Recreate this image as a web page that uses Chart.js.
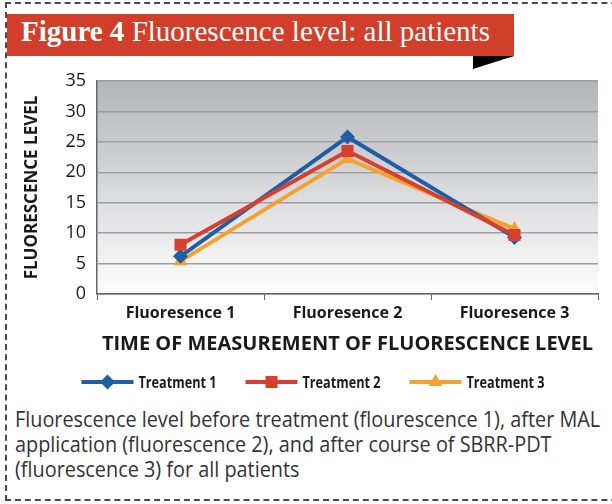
<!DOCTYPE html>
<html>
<head>
<meta charset="utf-8">
<script src="https://cdn.jsdelivr.net/npm/chart.js@4.4.0/dist/chart.umd.min.js"></script>
<style>
  body { margin: 0; width: 612px; height: 504px; background: #fff; position: relative; overflow: hidden; }
  #frame { position: absolute; left: 5px; top: 2px; width: 660px; height: 495px; border: 2px dashed #4a4a4a; border-right: none; }
  #banner { position: absolute; left: 7px; top: 14px; width: 507px; height: 42px; background: #d13f2a; }
  #banner span { position: absolute; left: 14px; top: 1px; font-family: "Liberation Serif", serif; font-size: 29px; color: #fff; white-space: nowrap; }
  #banner b { font-weight: bold; }
  #fold { position: absolute; left: 473px; top: 56px; width: 0; height: 0; border-top: 13px solid #000; border-right: 41px solid transparent; }
  #chart { position: absolute; left: 0; top: 0; }
  #caption { position: absolute; left: 15px; top: 407px; margin: 0; font-family: "Open Sans", sans-serif; font-size: 21px; line-height: 25px; color: #333; white-space: nowrap; transform-origin: 0 0; }
</style>
</head>
<body>
<div id="frame"></div>
<div id="banner"><span><b>Figure 4</b> Fluorescence level: all patients</span></div>
<div id="fold"></div>
<canvas id="chart" width="612" height="400"></canvas>
<p id="caption">Fluorescence level before treatment (flourescence 1), after MAL<br>application (fluorescence 2), and after course of SBRR-PDT<br>(fluorescence 3) for all patients</p>

<script>
// ---- Data ----
const categories = ['Fluoresence 1', 'Fluoresence 2', 'Fluoresence 3'];
const seriesNames = ['Treatment 1', 'Treatment 2', 'Treatment 3'];
const treatment1 = [6.2, 25.8, 9.3];
const treatment2 = [8.1, 23.5, 9.7];
const treatment3 = [5.4, 22.2, 10.7];
const yTicks = [0, 5, 10, 15, 20, 25, 30, 35];

const FONT = '"Open Sans", sans-serif';

// caption font is condensed in the original: squeeze to the same width
const caption = document.getElementById('caption');
caption.style.transform = 'scaleX(' + (585 / caption.scrollWidth) + ')';

// ---- Plugin: grey gradient behind the plot ----
const plotBackground = {
    id: 'plotBackground',
    beforeDraw(chart) {
        const { ctx, chartArea: a } = chart;
        const g = ctx.createLinearGradient(0, a.top, 0, a.bottom);
        g.addColorStop(0, '#b4b5b9');
        g.addColorStop(1, '#fdfdfd');
        ctx.save();
        ctx.fillStyle = g;
        ctx.fillRect(a.left, a.top, a.right - a.left, a.bottom - a.top);
        ctx.restore();
    }
};

// ---- Plugin: legend with line + marker under the axis title ----
const lineLegend = {
    id: 'lineLegend',
    afterDraw(chart) {
        const ctx = chart.ctx;
        const y = 382, lineW = 52, gap = 5, itemGap = 29, textW = 78;
        ctx.save();
        ctx.font = 'bold 16px ' + FONT;
        const total = chart.data.datasets.length * (lineW + gap + textW) + itemGap * (chart.data.datasets.length - 1);
        let x = 313 - total / 2;
        chart.data.datasets.forEach(ds => {
            ctx.strokeStyle = ds.borderColor;
            ctx.lineWidth = 4;
            ctx.beginPath();
            ctx.moveTo(x, y);
            ctx.lineTo(x + lineW, y);
            ctx.stroke();
            ctx.fillStyle = ds.pointBackgroundColor;
            Chart.helpers.drawPoint(ctx, { pointStyle: ds.pointStyle, radius: ds.pointRadius, rotation: 0, borderWidth: 0 }, x + lineW / 2, y);
            // condensed label
            const w = ctx.measureText(ds.label).width;
            ctx.save();
            ctx.translate(x + lineW + gap, y + 1);
            ctx.scale(textW / w, 1);
            ctx.fillStyle = '#1a1a1a';
            ctx.textBaseline = 'middle';
            ctx.fillText(ds.label, 0, 0);
            ctx.restore();
            x += lineW + gap + textW + itemGap;
        });
        ctx.restore();
    }
};

function series(label, data, color, style, radius, order) {
    return {
        label: label,
        data: data,
        borderColor: color,
        backgroundColor: color,
        pointBackgroundColor: color,
        pointBorderColor: color,
        pointBorderWidth: 0,
        pointStyle: style,
        pointRadius: radius,
        borderWidth: 4,
        tension: 0,
        order: order
    };
}

new Chart(document.getElementById('chart'), {
    type: 'line',
    data: {
        labels: categories,
        datasets: [
            series(seriesNames[0], treatment1, '#1f5ea6', 'rectRot', 7.5, 2),
            series(seriesNames[1], treatment2, '#d6402c', 'rect', 8.5, 1),
            series(seriesNames[2], treatment3, '#f5a132', 'triangle', 8, 3)
        ]
    },
    options: {
        responsive: false,
        animation: false,
        layout: { padding: { top: 81, right: 14, bottom: 44, left: 0 } },
        plugins: { legend: { display: false }, tooltip: { enabled: false } },
        scales: {
            x: {
                offset: true,
                afterFit(s) { s.height = 62; },
                grid: { display: true, drawOnChartArea: false, offset: true, tickLength: 6, color: '#666' },
                border: { color: '#666', width: 1.5 },
                ticks: { color: '#1a1a1a', padding: 4, font: { family: FONT, size: 16, weight: 'bold' } },
                title: {
                    display: true,
                    text: 'TIME OF MEASUREMENT OF FLUORESCENCE LEVEL',
                    color: '#1a1a1a',
                    padding: { top: 0, bottom: 0 },
                    font: { family: FONT, size: 20, weight: 'bold' }
                }
            },
            y: {
                min: 0,
                max: 35,
                afterFit(s) { s.width = 97; },
                afterBuildTicks(s) { s.ticks = yTicks.map(v => ({ value: v })); },
                grid: { color: '#9d9ea2', lineWidth: 1.5, drawTicks: false },
                border: { color: '#666', width: 1.5 },
                ticks: { color: '#1a1a1a', padding: 11, font: { family: FONT, size: 18 } },
                title: {
                    display: true,
                    text: 'FLUORESCENCE LEVEL',
                    color: '#1a1a1a',
                    padding: { top: 22, bottom: 0 },
                    font: { family: FONT, size: 17, weight: 'bold' }
                }
            }
        }
    },
    plugins: [plotBackground, lineLegend]
});
</script>
</body>
</html>
